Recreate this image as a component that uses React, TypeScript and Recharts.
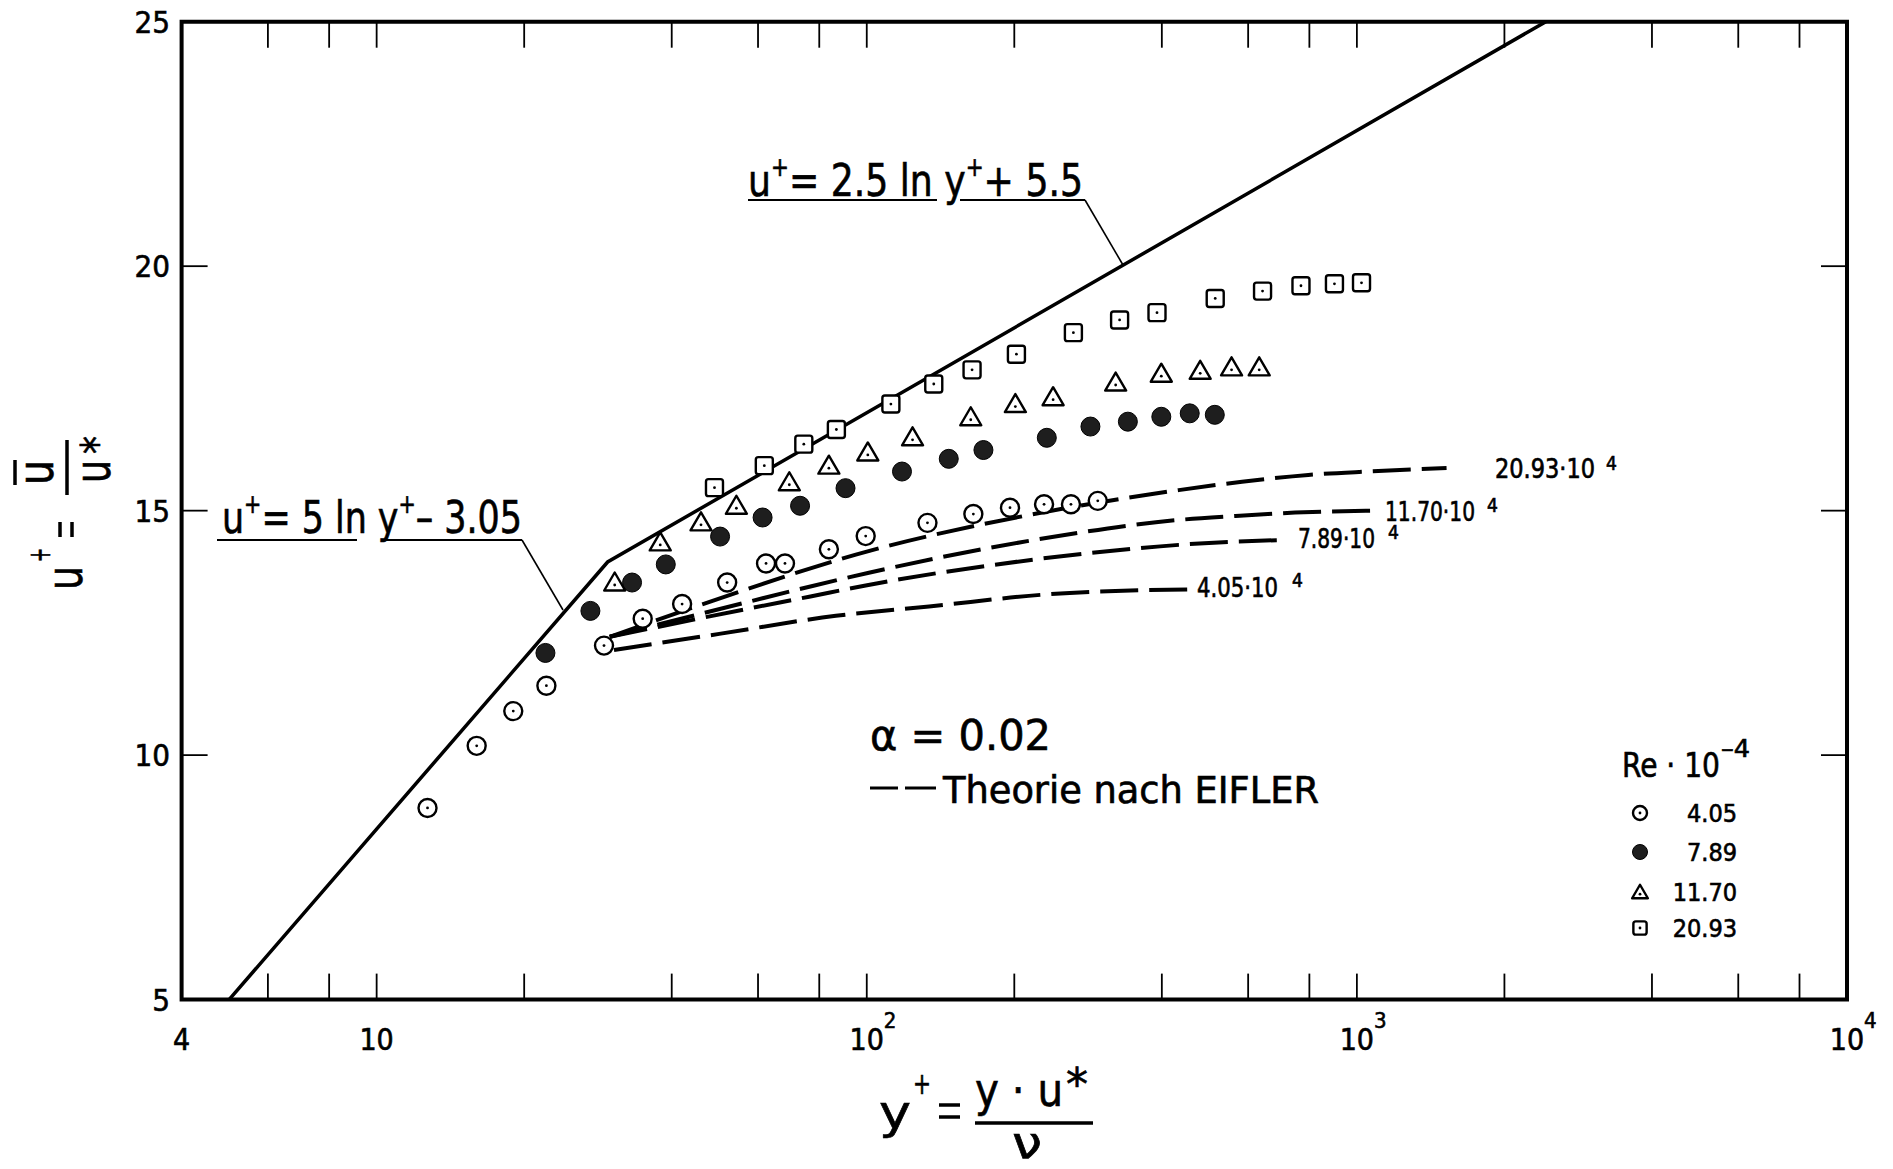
import React from 'react';
import { ComposedChart, Line, Scatter, XAxis, YAxis, ReferenceArea } from 'recharts';

// wall laws: u+ = 5 ln y+ - 3.05 (up to y+ ~ 30), then u+ = 2.5 ln y+ + 5.5
const wallY = [5.0, 29.6, 2430];
const wallU = [5, 13.95, 25];

// measured profiles, Re·10^-4
const re405Y = [12.7, 16.0, 19.0, 22.2, 29.1, 34.9, 42.0, 51.9, 62.3, 68.1, 83.7, 99.5, 133, 165, 196, 230, 261, 296];
const re405U = [8.92, 10.19, 10.9, 11.42, 12.24, 12.79, 13.09, 13.53, 13.92, 13.92, 14.21, 14.48, 14.75, 14.93, 15.06, 15.13, 15.13, 15.2];

const re789Y = [22.1, 27.3, 33.2, 38.9, 50.2, 61.3, 73.1, 90.5, 118, 147, 173, 233, 286, 341, 399, 456, 513];
const re789U = [12.09, 12.95, 13.53, 13.9, 14.47, 14.86, 15.1, 15.46, 15.8, 16.06, 16.24, 16.49, 16.72, 16.82, 16.92, 16.99, 16.96];

const re1170Y = [30.6, 37.9, 45.9, 54.2, 69.5, 83.7, 100.5, 124, 163, 201, 240, 322, 399, 479, 555, 632];
const re1170U = [13.51, 14.33, 14.74, 15.08, 15.56, 15.9, 16.17, 16.48, 16.89, 17.16, 17.3, 17.6, 17.78, 17.84, 17.91, 17.91];

const re2093Y = [48.9, 61.8, 74.4, 86.7, 112, 137, 164, 202, 264, 328, 391, 514, 642, 769, 900, 1022];
const re2093U = [15.47, 15.92, 16.36, 16.66, 17.18, 17.59, 17.88, 18.2, 18.64, 18.9, 19.05, 19.34, 19.49, 19.6, 19.64, 19.66];

// theory after EIFLER (dashed)
const th2093Y = [29.9, 44.8, 57.6, 73.9, 95, 214, 433, 583, 796, 1056, 1524];
const th2093U = [12.42, 13.04, 13.41, 13.77, 14.1, 14.91, 15.42, 15.59, 15.73, 15.8, 15.87];
const th1170Y = [29.9, 57.6, 77.5, 101, 232, 433, 565, 748, 1072];
const th1170U = [12.42, 13.14, 13.46, 13.73, 14.44, 14.81, 14.89, 14.96, 15.0];
const th789Y = [29.9, 57.6, 76.3, 99.5, 232, 433, 522, 708];
const th789U = [12.42, 13.0, 13.24, 13.47, 14.03, 14.3, 14.35, 14.4];
const th405Y = [30.5, 50, 86.5, 134, 235, 454];
const th405U = [12.15, 12.48, 12.85, 13.04, 13.29, 13.39];

const xTicks = [4, 6, 8, 10, 20, 40, 60, 80, 100, 200, 400, 600, 800, 1000, 2000, 4000, 6000, 8000, 10000];
const xLabels: Record<number, string[]> = { 4: ['4', ''], 10: ['10', ''], 100: ['10', '2'], 1000: ['10', '3'], 10000: ['10', '4'] };
const yTicks = [5, 10, 15, 20, 25];

const zip = (xs: number[], us: number[]) => xs.map((x, i) => ({ yp: x, up: us[i] }));

const W = 1877;
const H = 1161;
const PL = 173.6;
const PT = 13.7;
const PR = 1839;
const PB = 991.6;
const FONT = "'DejaVu Sans Condensed', 'Liberation Sans Narrow', 'DejaVu Sans', sans-serif";
const INK = '#000';

// a thin outline makes the glyphs read as heavy as the plotter lettering
const txt = { fontFamily: FONT, fill: INK, fontStretch: 'condensed', stroke: INK, strokeWidth: 0.6 } as React.CSSProperties;

function XTick(props: any) {
  const { x, payload } = props;
  const v = payload.value;
  const lab = xLabels[v];
  const edge = v === 4 || v === 10000;
  return (
    <g>
      {!edge && <line x1={x} x2={x} y1={PB} y2={PB - 26} stroke={INK} strokeWidth={1.8} />}
      {!edge && <line x1={x} x2={x} y1={PT} y2={PT + 26} stroke={INK} strokeWidth={1.8} />}
      {lab && (
        <text x={x} y={1042} textAnchor="middle" fontSize={30} style={txt}>
          {lab[0]}
        </text>
      )}
      {lab && lab[1] && (
        <text x={x + 17} y={1020} fontSize={22} style={txt}>
          {lab[1]}
        </text>
      )}
    </g>
  );
}

function YTick(props: any) {
  const { y, payload } = props;
  const v = payload.value;
  const edge = v === 5 || v === 25;
  return (
    <g>
      {!edge && <line x1={PL} x2={PL + 26} y1={y} y2={y} stroke={INK} strokeWidth={1.8} />}
      {!edge && <line x1={PR - 26} x2={PR} y1={y} y2={y} stroke={INK} strokeWidth={1.8} />}
      <text x={162} y={y + 11} textAnchor="end" fontSize={31} style={txt}>
        {v}
      </text>
    </g>
  );
}

function OpenCircle({ cx, cy, r = 9 }: any) {
  return (
    <g>
      <circle cx={cx} cy={cy} r={r} fill="#fff" stroke={INK} strokeWidth={2.4} />
      <circle cx={cx} cy={cy} r={1.4} fill={INK} />
    </g>
  );
}

function FilledCircle({ cx, cy, r = 9.5 }: any) {
  return <circle cx={cx} cy={cy} r={r} fill="#1e1e1e" stroke={INK} strokeWidth={1} />;
}

function Triangle({ cx, cy, s = 1 }: any) {
  const pts = `${cx},${cy - 11 * s} ${cx + 10.5 * s},${cy + 7 * s} ${cx - 10.5 * s},${cy + 7 * s}`;
  return (
    <g>
      <polygon points={pts} fill="#fff" stroke={INK} strokeWidth={2.4} strokeLinejoin="round" />
      <circle cx={cx} cy={cy + 1.5 * s} r={1.4} fill={INK} />
    </g>
  );
}

function Square({ cx, cy, s = 1 }: any) {
  const h = 8.5 * s;
  return (
    <g>
      <rect x={cx - h} y={cy - h} width={2 * h} height={2 * h} rx={2.5} fill="#fff" stroke={INK} strokeWidth={2.4} />
      <circle cx={cx} cy={cy} r={1.4} fill={INK} />
    </g>
  );
}

function Overlay() {
  const legendRows = [
    { y: 805, label: '4.05', el: <OpenCircle cx={1632} cy={805} r={7} /> },
    { y: 844, label: '7.89', el: <FilledCircle cx={1632} cy={844} r={7.5} /> },
    { y: 884, label: '11.70', el: <Triangle cx={1632} cy={885} s={0.75} /> },
    { y: 920, label: '20.93', el: <Square cx={1632} cy={920} s={0.78} /> },
  ];
  return (
    <svg
      width={W}
      height={H}
      style={{ position: 'absolute', left: 0, top: 0, pointerEvents: 'none', overflow: 'visible' }}
    >
      {/* u+ = 2.5 ln y+ + 5.5 */}
      <text x={740} y={188} fontSize={44} style={txt} textLength={335} lengthAdjust="spacingAndGlyphs">
        u<tspan dy={-20} fontSize={26}>+</tspan>
        <tspan dy={20}>= 2.5 ln y</tspan>
        <tspan dy={-20} fontSize={26}>+</tspan>
        <tspan dy={20}>+ 5.5</tspan>
      </text>
      <line x1={740} x2={929} y1={192} y2={192} stroke={INK} strokeWidth={2} />
      <line x1={952} x2={1077} y1={192} y2={192} stroke={INK} strokeWidth={2} />
      <line x1={1077} x2={1115} y1={192} y2={257} stroke={INK} strokeWidth={1.6} />

      {/* u+ = 5 ln y+ - 3.05 */}
      <text x={214} y={525} fontSize={44} style={txt} textLength={300} lengthAdjust="spacingAndGlyphs">
        u<tspan dy={-20} fontSize={26}>+</tspan>
        <tspan dy={20}>= 5 ln y</tspan>
        <tspan dy={-20} fontSize={26}>+</tspan>
        <tspan dy={20}>– 3.05</tspan>
      </text>
      <line x1={209} x2={349} y1={532} y2={532} stroke={INK} strokeWidth={2} />
      <line x1={375} x2={514} y1={532} y2={532} stroke={INK} strokeWidth={2} />
      <line x1={514} x2={555} y1={532} y2={602} stroke={INK} strokeWidth={1.6} />

      {/* curve labels */}
      <text x={1487} y={470} fontSize={26} style={txt} textLength={100} lengthAdjust="spacingAndGlyphs">20.93·10</text>
      <text x={1598} y={462} fontSize={19} style={txt}>4</text>
      <text x={1377} y={513} fontSize={26} style={txt} textLength={90} lengthAdjust="spacingAndGlyphs">11.70·10</text>
      <text x={1479} y={504} fontSize={19} style={txt}>4</text>
      <text x={1290} y={540} fontSize={26} style={txt} textLength={77} lengthAdjust="spacingAndGlyphs">7.89·10</text>
      <text x={1380} y={531} fontSize={19} style={txt}>4</text>
      <text x={1189} y={589} fontSize={26} style={txt} textLength={81} lengthAdjust="spacingAndGlyphs">4.05·10</text>
      <text x={1284} y={579} fontSize={19} style={txt}>4</text>

      {/* alpha and theory note */}
      <text x={862} y={742} fontSize={42} style={txt} textLength={181} lengthAdjust="spacingAndGlyphs">α = 0.02</text>
      <line x1={862} x2={890} y1={780} y2={780} stroke={INK} strokeWidth={3} />
      <line x1={897} x2={928} y1={780} y2={780} stroke={INK} strokeWidth={3} />
      <text x={935} y={795} fontSize={37} style={txt} textLength={376} lengthAdjust="spacingAndGlyphs">Theorie nach EIFLER</text>

      {/* legend */}
      <text x={1614} y={769} fontSize={34} style={txt} textLength={98} lengthAdjust="spacingAndGlyphs">Re · 10</text>
      <text x={1713} y={749} fontSize={24} style={txt} textLength={29} lengthAdjust="spacingAndGlyphs">–4</text>
      {legendRows.map((r) => (
        <g key={r.label}>
          {r.el}
          <text x={1729} y={r.y + 9} fontSize={25} textAnchor="end" style={txt}>
            {r.label}
          </text>
        </g>
      ))}

      {/* y-axis title: u+ = ū / u* (rotated) */}
      <g transform="translate(59,502) rotate(-90)">
        <text x={-80} y={15} fontSize={50} style={txt} textLength={24} lengthAdjust="spacingAndGlyphs">u</text>
        <text x={-52} y={-17} fontSize={30} style={txt} textLength={14} lengthAdjust="spacingAndGlyphs">+</text>
        <text x={25} y={-14} fontSize={50} style={txt} textLength={25} lengthAdjust="spacingAndGlyphs">u</text>
        <line x1={25} x2={50} y1={-52} y2={-52} stroke={INK} strokeWidth={3.5} />
        <text x={27} y={43} fontSize={50} style={txt} textLength={23} lengthAdjust="spacingAndGlyphs">u</text>
        <text x={56} y={46} fontSize={44} style={txt} textLength={18} lengthAdjust="spacingAndGlyphs">*</text>
      </g>
      <line x1={52} x2={52} y1={514} y2={529} stroke={INK} strokeWidth={3.5} />
      <line x1={64} x2={64} y1={514} y2={529} stroke={INK} strokeWidth={3.5} />
      <line x1={59} x2={59} y1={432} y2={487} stroke={INK} strokeWidth={3.5} />

      {/* x-axis title: y+ = y·u* / ν */}
      <text x={871} y={1120} fontSize={46} style={txt} textLength={32} lengthAdjust="spacingAndGlyphs">y</text>
      <text x={905} y={1086} fontSize={30} style={txt} textLength={18} lengthAdjust="spacingAndGlyphs">+</text>
      <line x1={931} x2={952} y1={1097} y2={1097} stroke={INK} strokeWidth={3.5} />
      <line x1={931} x2={952} y1={1109} y2={1109} stroke={INK} strokeWidth={3.5} />
      <text x={967} y={1098} fontSize={46} style={txt} textLength={88} lengthAdjust="spacingAndGlyphs">y · u</text>
      <text x={1058} y={1092} fontSize={44} style={txt} textLength={22} lengthAdjust="spacingAndGlyphs">*</text>
      <line x1={967} x2={1085} y1={1115} y2={1115} stroke={INK} strokeWidth={3.5} />
      <text x={1004} y={1150} fontSize={44} style={txt} textLength={30} lengthAdjust="spacingAndGlyphs">ν</text>
    </svg>
  );
}

export default function App() {
  const dash = { stroke: INK, strokeWidth: 4, strokeDasharray: '38 11', dot: false, type: 'monotone' as const };
  return (
    <div style={{ position: 'relative', width: W, height: H, background: '#fff' }}>
      <ComposedChart width={W} height={H} margin={{ top: PT, right: W - PR, left: PL - 60, bottom: H - PB - 60 }}>
        <XAxis
          dataKey="yp"
          type="number"
          scale="log"
          domain={[4, 10000]}
          allowDataOverflow
          ticks={xTicks}
          interval={0}
          tickLine={false}
          axisLine={false}
          height={60}
          tick={(p: any) => <XTick {...p} />}
        />
        <YAxis
          dataKey="up"
          type="number"
          domain={[5, 25]}
          allowDataOverflow
          ticks={yTicks}
          interval={0}
          tickLine={false}
          axisLine={false}
          width={60}
          tick={(p: any) => <YTick {...p} />}
        />
        <Line data={zip(th405Y, th405U)} dataKey="up" {...dash} isAnimationActive={false} />
        <Line data={zip(th789Y, th789U)} dataKey="up" {...dash} isAnimationActive={false} />
        <Line data={zip(th1170Y, th1170U)} dataKey="up" {...dash} isAnimationActive={false} />
        <Line data={zip(th2093Y, th2093U)} dataKey="up" {...dash} isAnimationActive={false} />
        <Line data={zip(wallY, wallU)} dataKey="up" stroke={INK} strokeWidth={3.5} dot={false} type="linear" isAnimationActive={false} />
        <Scatter data={zip(re405Y, re405U)} shape={(p: any) => <OpenCircle cx={p.cx} cy={p.cy} />} isAnimationActive={false} />
        <Scatter data={zip(re789Y, re789U)} shape={(p: any) => <FilledCircle cx={p.cx} cy={p.cy} />} isAnimationActive={false} />
        <Scatter data={zip(re1170Y, re1170U)} shape={(p: any) => <Triangle cx={p.cx} cy={p.cy} />} isAnimationActive={false} />
        <Scatter data={zip(re2093Y, re2093U)} shape={(p: any) => <Square cx={p.cx} cy={p.cy} />} isAnimationActive={false} />
        <ReferenceArea x1={4} x2={10000} y1={5} y2={25} fill="none" stroke={INK} strokeWidth={4} ifOverflow="visible" />
      </ComposedChart>
      <Overlay />
    </div>
  );
}
